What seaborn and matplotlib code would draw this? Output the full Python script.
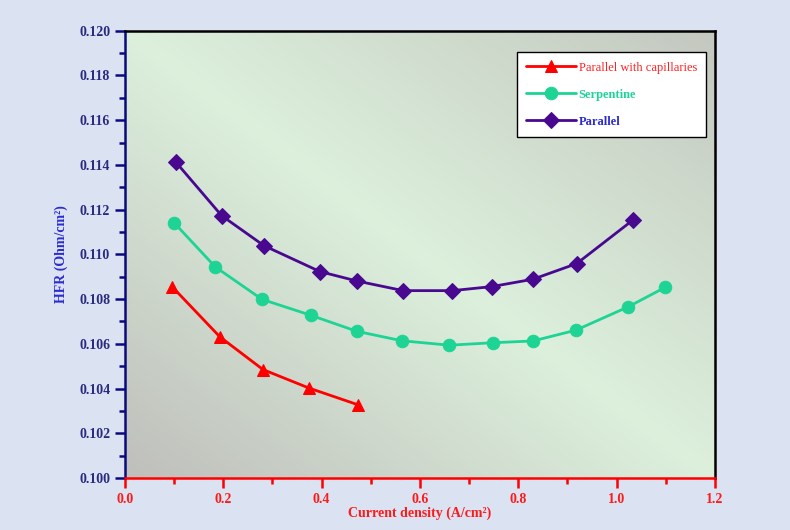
import numpy as np
import pandas as pd
import matplotlib
matplotlib.use("Agg")
import matplotlib.pyplot as plt
from matplotlib.colors import LinearSegmentedColormap
from matplotlib.ticker import MultipleLocator, FormatStrFormatter
import seaborn as sns

# data
cap_x = [0.096, 0.193, 0.281, 0.375, 0.475]
cap_y = [0.10856, 0.10632, 0.10485, 0.10402, 0.10327]

serp_x = [0.100, 0.184, 0.279, 0.378, 0.472, 0.563, 0.660, 0.748, 0.830, 0.917, 1.023, 1.099]
serp_y = [0.11142, 0.10944, 0.10799, 0.10728, 0.10656, 0.10614, 0.10594, 0.10605,
          0.10613, 0.10661, 0.10765, 0.10853]

par_x = [0.104, 0.197, 0.283, 0.397, 0.472, 0.566, 0.666, 0.746, 0.830, 0.919, 1.034]
par_y = [0.11412, 0.11173, 0.11039, 0.10923, 0.10881, 0.10838, 0.10838, 0.10856,
         0.10889, 0.10959, 0.11155]

series = [
    ("Parallel with capillaries", cap_x, cap_y, "#ff0000", "^", "#ff2020"),
    ("Serpentine", serp_x, serp_y, "#1ed495", "o", "#1ed495"),
    ("Parallel", par_x, par_y, "#48088f", "D", "#2b2bd0"),
]

sns.set_theme(style="white")
plt.rcParams["font.family"] = ["Liberation Serif", "DejaVu Serif"]
plt.rcParams["font.weight"] = "bold"

fig = plt.figure(figsize=(7.9, 5.3), dpi=100, facecolor="#dbe3f3")
ax = fig.add_axes([0.158, 0.098, 0.747, 0.844])

# diagonal gradient background: gray bottom-left -> light green -> gray top-right
cmap = LinearSegmentedColormap.from_list(
    "bg", [(0.0, "#bfbfbb"), (0.5, "#dcf0dc"), (1.0, "#c4c8c0")])
gx, gy = np.meshgrid(np.linspace(0, 1, 200), np.linspace(0, 1, 200))
grad = (gx + gy) / 2
ax.imshow(grad, cmap=cmap, origin="lower", extent=[0, 1, 0, 1],
          transform=ax.transAxes, aspect="auto", zorder=0)

for name, xs, ys, col, mk, _ in series:
    df = pd.DataFrame({"x": xs, "y": ys})
    sns.lineplot(data=df, x="x", y="y", ax=ax, color=col, marker=mk,
                 markersize=9 if mk != "D" else 8, markeredgecolor=col,
                 linewidth=2, sort=False, label=name, zorder=3)

ax.set_xlim(0, 1.2)
ax.set_ylim(0.100, 0.120)
ax.xaxis.set_major_locator(MultipleLocator(0.2))
ax.xaxis.set_minor_locator(MultipleLocator(0.1))
ax.yaxis.set_major_locator(MultipleLocator(0.002))
ax.yaxis.set_minor_locator(MultipleLocator(0.001))
ax.xaxis.set_major_formatter(FormatStrFormatter("%.1f"))
ax.yaxis.set_major_formatter(FormatStrFormatter("%.3f"))

red = "#ff1a1a"
ax.spines["left"].set_color("#0a0a80")
ax.spines["bottom"].set_color("#ff0000")
ax.spines["top"].set_color("black")
ax.spines["right"].set_color("black")
for s in ax.spines.values():
    s.set_linewidth(1.8)
    s.set_visible(True)

ax.tick_params(axis="y", which="major", direction="out", length=7, width=1.8,
               colors="#0a0a80", labelcolor="#2a2a80", labelsize=10, left=True)
ax.tick_params(axis="y", which="minor", direction="out", length=4, width=1.8,
               colors="#0a0a80", left=True)
ax.tick_params(axis="x", which="major", direction="out", length=7, width=1.8,
               colors="#ff0000", labelcolor=red, labelsize=10, bottom=True, pad=4)
ax.tick_params(axis="x", which="minor", direction="out", length=4, width=1.8,
               colors="#ff0000", bottom=True)
for lab in ax.get_xticklabels() + ax.get_yticklabels():
    lab.set_fontweight("bold")

ax.set_xlabel("Current density (A/cm²)", color=red, fontsize=10,
              fontweight="bold", labelpad=0)
ax.set_ylabel("HFR (Ohm/cm²)", color="#2b2bd0", fontsize=10,
              fontweight="bold", labelpad=8)

leg = ax.legend(loc="upper left", bbox_to_anchor=(0.664, 0.952), frameon=True,
                fancybox=False, edgecolor="black", facecolor="white",
                framealpha=1, fontsize=9, handlelength=4.0, numpoints=1,
                borderpad=0.75, labelspacing=1.2, handletextpad=0.2,
                borderaxespad=0)
leg.get_frame().set_linewidth(1.0)
for txt, (_, _, _, _, _, tc) in zip(leg.get_texts(), series):
    txt.set_color(tc)
    txt.set_fontweight("bold" if tc != "#ff2020" else "normal")

fig.savefig("out.png", dpi=100, facecolor=fig.get_facecolor())
